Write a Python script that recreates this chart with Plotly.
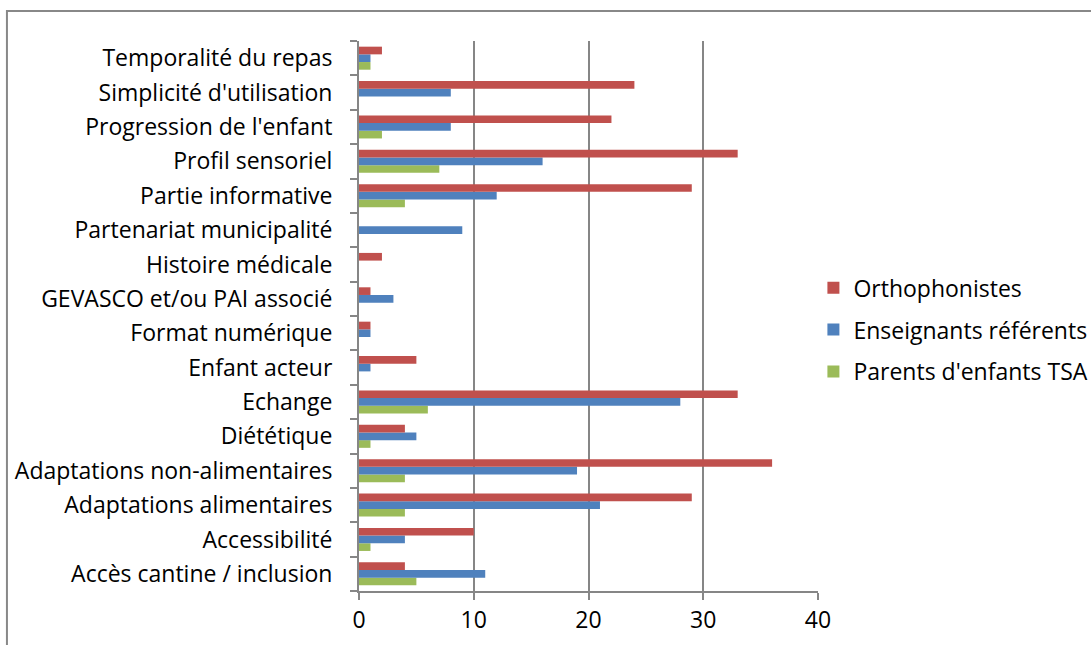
import plotly.graph_objects as go

categories = [
    "Accès cantine / inclusion", "Accessibilité", "Adaptations alimentaires",
    "Adaptations non-alimentaires", "Diététique", "Echange", "Enfant acteur",
    "Format numérique", "GEVASCO et/ou PAI associé", "Histoire médicale",
    "Partenariat municipalité", "Partie informative", "Profil sensoriel",
    "Progression de l'enfant", "Simplicité d'utilisation", "Temporalité du repas",
]
parents = [5, 1, 4, 4, 1, 6, 0, 0, 0, 0, 0, 4, 7, 2, 0, 1]
enseignants = [11, 4, 21, 19, 5, 28, 1, 1, 3, 0, 9, 12, 16, 8, 8, 1]
orthophonistes = [4, 10, 29, 36, 4, 33, 5, 1, 1, 2, 0, 29, 33, 22, 24, 2]
x_ticks = [0, 10, 20, 30, 40]

FONT = "Open Sans"
fig = go.Figure()
series = [
    ("Parents d'enfants TSA", parents, "#9BBB59", 3),
    ("Enseignants référents", enseignants, "#4F81BD", 2),
    ("Orthophonistes", orthophonistes, "#C0504D", 1),
]
for name, vals, col, rank in series:
    fig.add_trace(go.Bar(
        y=categories, x=vals, name=name, orientation="h",
        marker=dict(color=col, line=dict(width=0)), legendgroup=name,
        legendrank=rank,
    ))

fig.update_layout(
    width=1091, height=645,
    margin=dict(l=359, r=273, t=41, b=54, autoexpand=False),
    paper_bgcolor="white", plot_bgcolor="white",
    barmode="group", bargap=0.33, bargroupgap=0,
    font=dict(family=FONT, size=23, color="black"),
    legend=dict(
        x=0.99, xanchor="left", y=0.475, yanchor="middle",
        traceorder="grouped", tracegroupgap=9,
        itemwidth=30,
        font=dict(family=FONT, size=23, color="black"),
    ),
    xaxis=dict(
        range=[0, 40], tickvals=x_ticks, ticktext=[str(v) for v in x_ticks],
        showgrid=True, gridcolor="#868686", gridwidth=2,
        showline=True, linecolor="#868686", linewidth=2,
        ticks="outside", ticklen=7, tickcolor="#868686", tickwidth=2,
        zeroline=False, tickfont=dict(size=23),
    ),
    yaxis=dict(
        categoryorder="array", categoryarray=categories,
        showline=True, linecolor="#868686", linewidth=2,
        ticks="outside", ticklen=7, tickcolor="#868686", tickwidth=2,
        tickson="boundaries", showgrid=False,
        ticklabelstandoff=20,
    ),
    shapes=[dict(
        type="rect", xref="paper", yref="paper",
        x0=-0.767, x1=2.0, y0=-0.3, y1=1.0545,
        line=dict(color="#888888", width=2), fillcolor="rgba(0,0,0,0)",
        layer="below",
    )],
)
fig.write_html("out.html")
